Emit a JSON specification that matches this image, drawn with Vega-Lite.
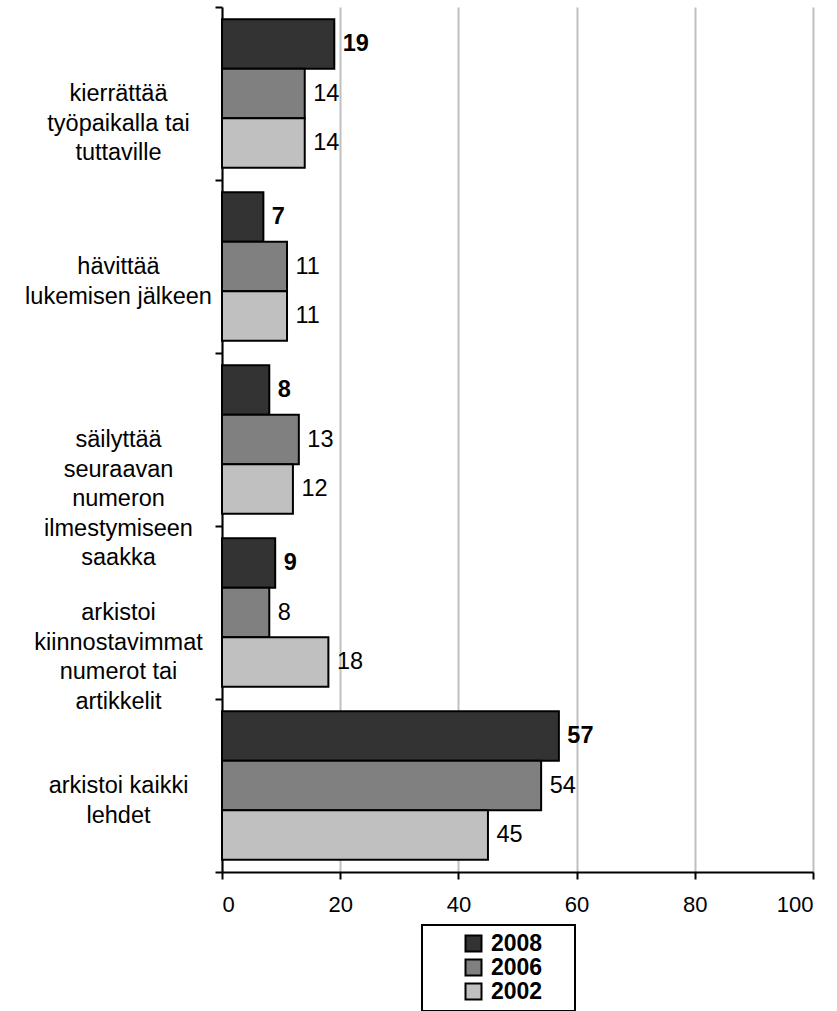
{
  "$schema": "https://vega.github.io/schema/vega-lite/v6.json",
  "width": 591,
  "height": 865,
  "autosize": {"type": "none"},
  "padding": {"left": 222, "top": 7, "right": 24, "bottom": 139},
  "background": "white",
  "config": {"view": {"stroke": null}, "font": "Liberation Sans"},
  "data": {
    "values": [
      {"cat": "kierrättää|työpaikalla tai|tuttaville", "year": "2008", "value": 19},
      {"cat": "kierrättää|työpaikalla tai|tuttaville", "year": "2006", "value": 14},
      {"cat": "kierrättää|työpaikalla tai|tuttaville", "year": "2002", "value": 14},
      {"cat": "hävittää|lukemisen jälkeen", "year": "2008", "value": 7},
      {"cat": "hävittää|lukemisen jälkeen", "year": "2006", "value": 11},
      {"cat": "hävittää|lukemisen jälkeen", "year": "2002", "value": 11},
      {"cat": "säilyttää|seuraavan|numeron|ilmestymiseen|saakka", "year": "2008", "value": 8},
      {"cat": "säilyttää|seuraavan|numeron|ilmestymiseen|saakka", "year": "2006", "value": 13},
      {"cat": "säilyttää|seuraavan|numeron|ilmestymiseen|saakka", "year": "2002", "value": 12},
      {"cat": "arkistoi|kiinnostavimmat|numerot tai|artikkelit", "year": "2008", "value": 9},
      {"cat": "arkistoi|kiinnostavimmat|numerot tai|artikkelit", "year": "2006", "value": 8},
      {"cat": "arkistoi|kiinnostavimmat|numerot tai|artikkelit", "year": "2002", "value": 18},
      {"cat": "arkistoi kaikki|lehdet", "year": "2008", "value": 57},
      {"cat": "arkistoi kaikki|lehdet", "year": "2006", "value": 54},
      {"cat": "arkistoi kaikki|lehdet", "year": "2002", "value": 45}
    ]
  },
  "encoding": {
    "y": {
      "field": "cat",
      "type": "nominal",
      "sort": null,
      "scale": {"paddingInner": 0, "paddingOuter": 0},
      "axis": {
        "title": null,
        "domainColor": "black",
        "domainWidth": 2,
        "tickColor": "black",
        "tickWidth": 2,
        "tickSize": 7,
        "tickBand": "extent",
        "labelAlign": "center",
        "labelBaseline": "middle",
        "labelPadding": 97,
        "labelFontSize": 23.5,
        "labelLineHeight": 29.5,
        "labelColor": "black",
        "labelLimit": 0,
        "labelExpr": "split(datum.label, '|')",
        "encode": {
          "labels": {
            "update": {
              "dy": {"signal": "-(length(split(datum.value, '|')) - 1) * 14.75"},
              "dx": {"signal": "(indexof(datum.value, 'kierr') >= 0 ? 130 : indexof(datum.value, 'hävit') >= 0 ? 108 : indexof(datum.value, 'säily') >= 0 ? 127 : indexof(datum.value, 'kiinn') >= 0 ? 118 : 129) - 118"}
            }
          }
        }
      }
    },
    "yOffset": {
      "field": "year",
      "sort": ["2008", "2006", "2002"],
      "scale": {"paddingInner": 0, "paddingOuter": 0.25}
    },
    "x": {
      "field": "value",
      "type": "quantitative",
      "scale": {"domain": [0, 100]},
      "axis": {
        "title": null,
        "values": [0, 20, 40, 60, 80, 100],
        "grid": true,
        "gridColor": "#c0c0c0",
        "gridWidth": 2,
        "domainColor": "black",
        "domainWidth": 2,
        "tickColor": "black",
        "tickWidth": 2,
        "tickSize": 7,
        "labelFontSize": 22,
        "labelPadding": 15,
        "labelColor": "black"
      }
    }
  },
  "layer": [
    {
      "mark": {"type": "bar", "stroke": "black", "strokeWidth": 2, "opacity": 1},
      "encoding": {
        "color": {
          "field": "year",
          "type": "nominal",
          "scale": {"domain": ["2008", "2006", "2002"], "range": ["#333333", "#808080", "#c0c0c0"]},
          "legend": {
            "title": null,
            "orient": "none",
            "legendX": 200,
            "legendY": 918,
            "direction": "vertical",
            "symbolType": "square",
            "symbolSize": 256,
            "symbolOpacity": 1,
            "symbolStrokeColor": "black",
            "symbolStrokeWidth": 2,
            "labelFontSize": 23,
            "labelFontWeight": "bold",
            "labelColor": "black",
            "labelOffset": 6,
            "labelExpr": "datum.label + '\u00a0\u00a0\u00a0\u00a0\u200b'",
            "strokeColor": "black",
            "fillColor": "white",
            "padding": 7,
            "symbolOffset": 33,
            "rowPadding": -1,
            "encode": {"legend": {"update": {"strokeWidth": {"value": 2}}}}
          }
        }
      }
    },
    {
      "transform": [{"filter": "datum.year == '2008'"}],
      "mark": {"type": "text", "align": "left", "baseline": "middle", "dx": 8.5, "fontSize": 23.5, "fontWeight": "bold", "color": "black"},
      "encoding": {"text": {"field": "value", "type": "quantitative"}}
    },
    {
      "transform": [{"filter": "datum.year != '2008'"}],
      "mark": {"type": "text", "align": "left", "baseline": "middle", "dx": 8.5, "fontSize": 23.5, "color": "black"},
      "encoding": {"text": {"field": "value", "type": "quantitative"}}
    }
  ]
}
